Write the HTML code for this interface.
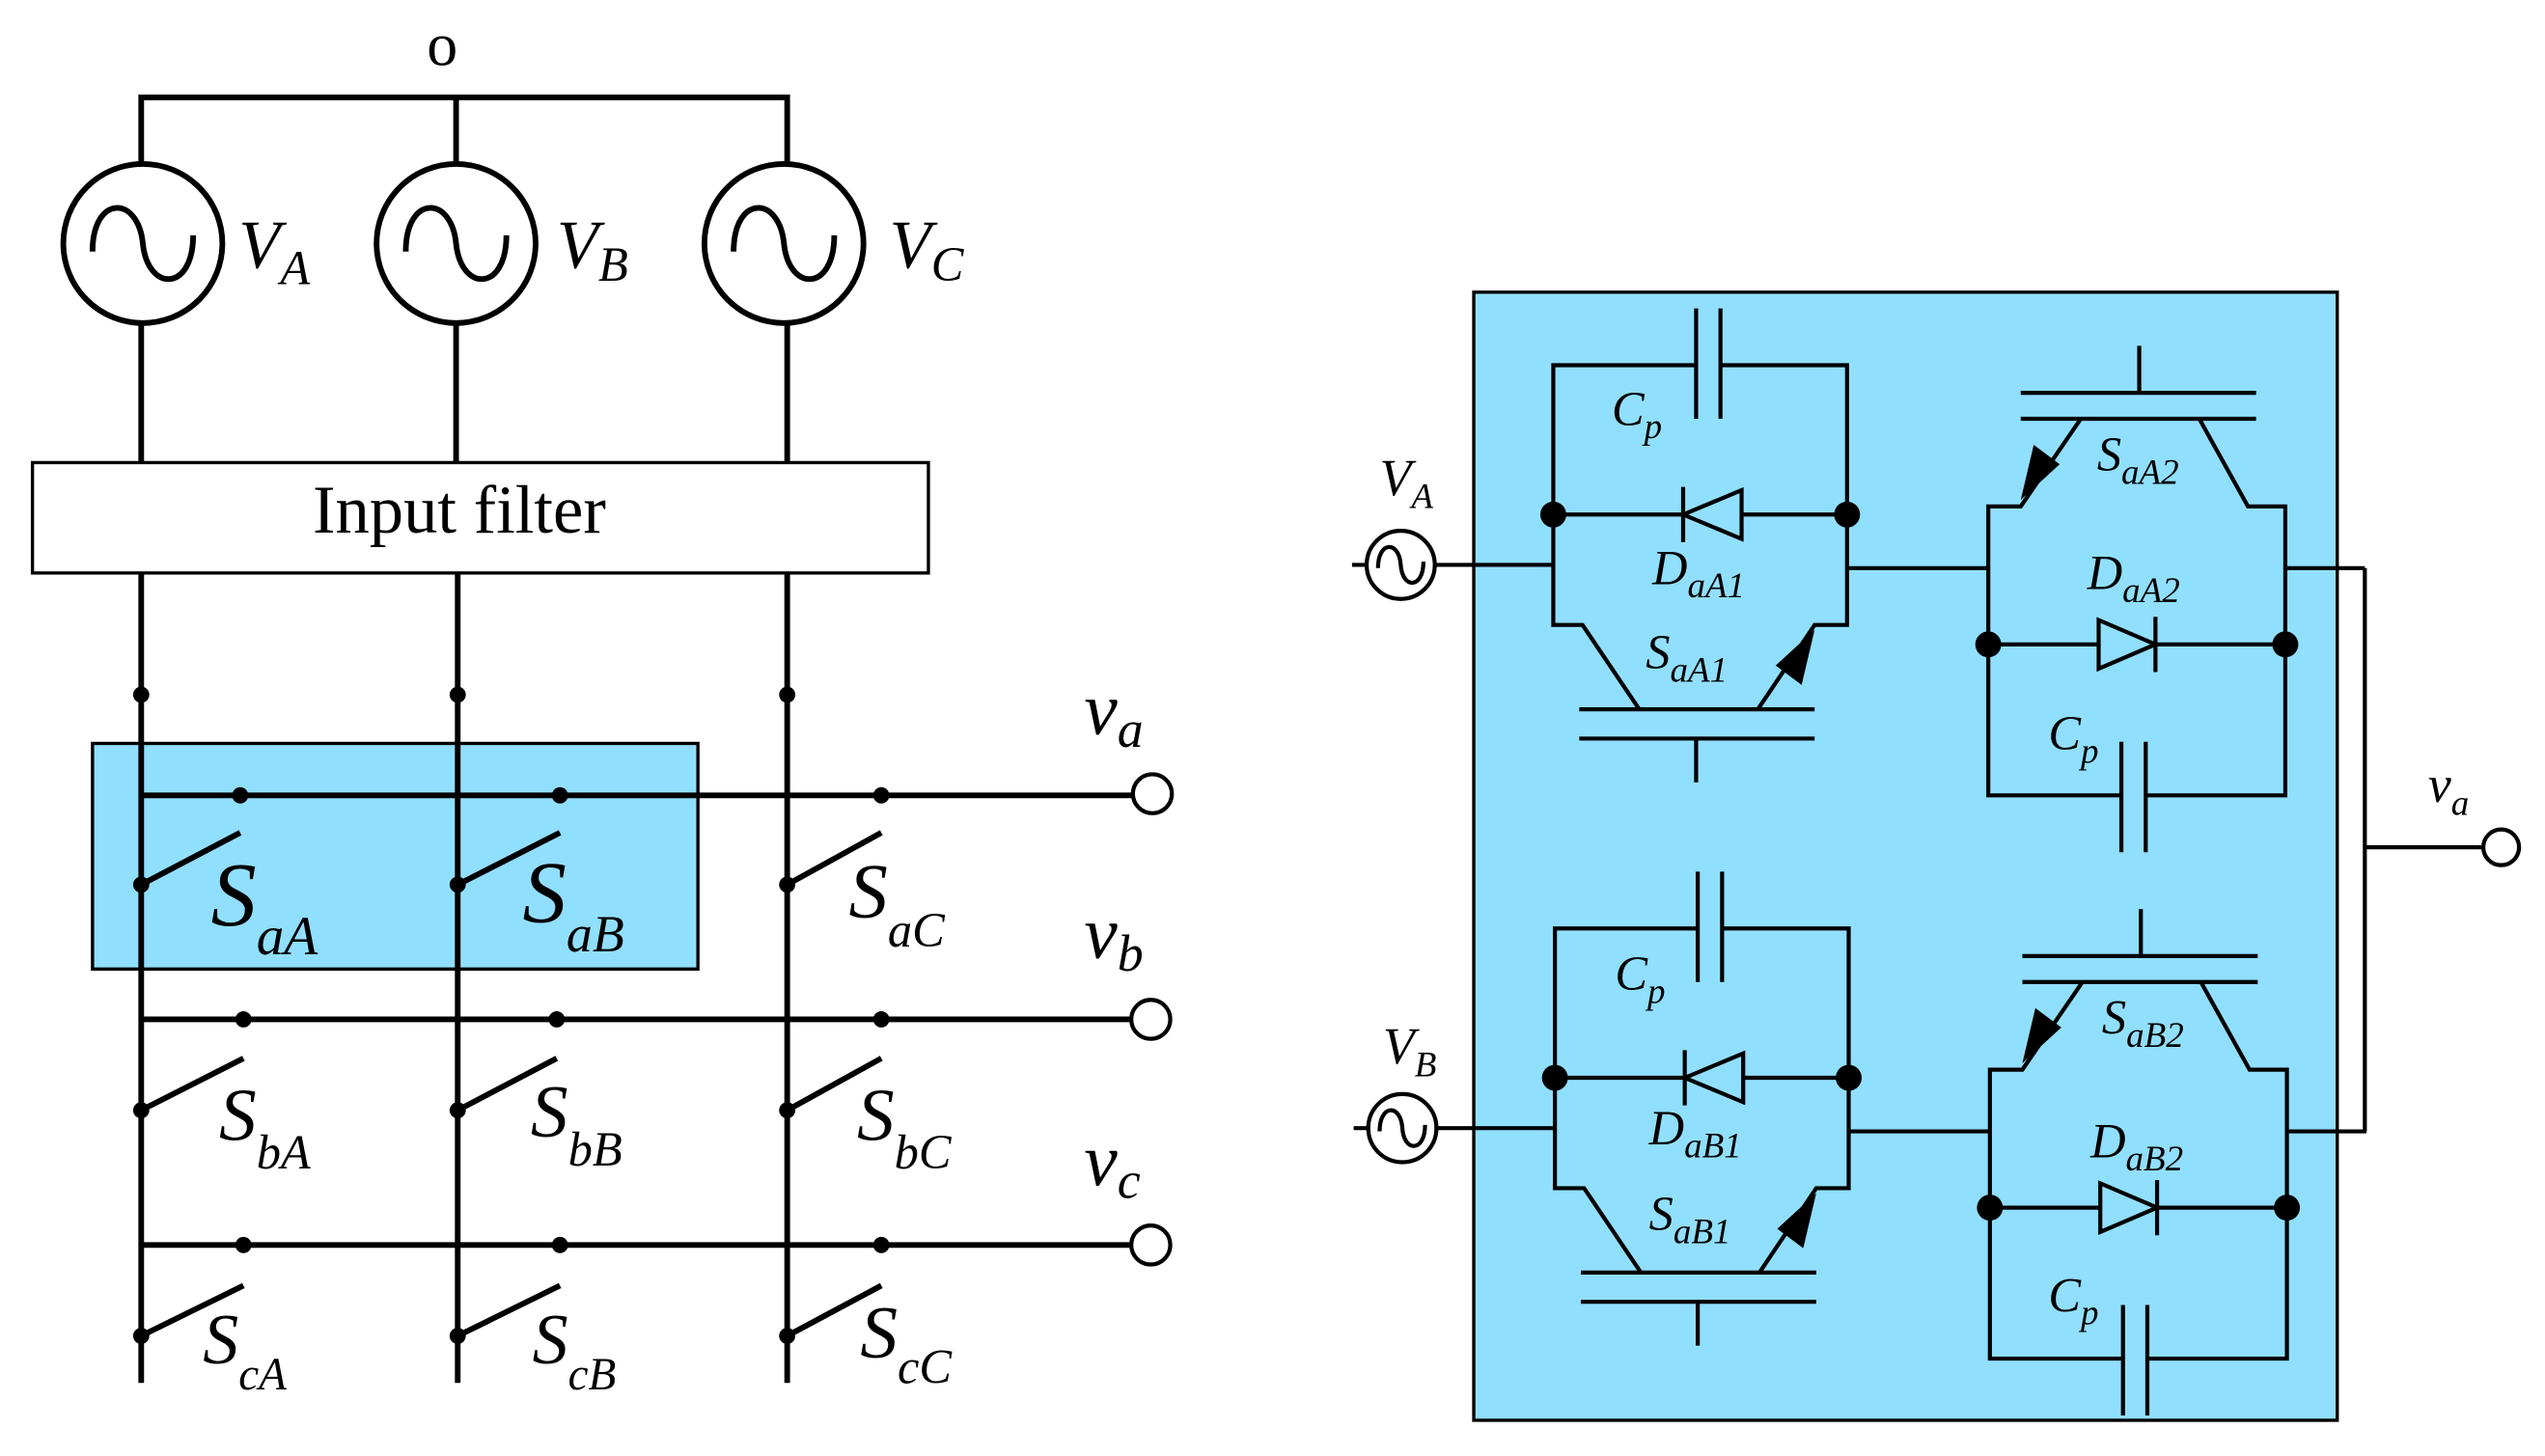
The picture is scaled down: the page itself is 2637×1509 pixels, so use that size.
<!DOCTYPE html>
<html><head><meta charset="utf-8"><style>
html,body{margin:0;padding:0;background:#fff}
svg{display:block}
text{font-family:"Liberation Serif",serif;fill:#000}
.i{font-style:italic}
</style></head><body>
<svg width="2637" height="1509" viewBox="0 0 1568 897" preserveAspectRatio="none" xmlns="http://www.w3.org/2000/svg">
<!-- LEFT -->
<g stroke="#000" stroke-width="3.5" fill="none">
<rect x="57" y="458" width="373" height="139" fill="#91dffe" stroke-width="2"/>
<polyline points="87,100 87,60 485,60 485,100"/>
<line x1="281" y1="60" x2="281" y2="100"/>
<circle cx="88" cy="150" r="49"/>
<circle cx="281" cy="150" r="49"/>
<circle cx="483" cy="150" r="49"/>
<path d="M57,155 C57,120 85,120 88,150 C91,180 119,180 119,145"/>
<path d="M250,155 C250,120 278,120 281,150 C284,180 312,180 312,145"/>
<path d="M452,155 C452,120 480,120 483,150 C486,180 514,180 514,145"/>
<line x1="87" y1="200" x2="87" y2="285"/>
<line x1="281" y1="200" x2="281" y2="285"/>
<line x1="485" y1="200" x2="485" y2="285"/>
<rect x="20" y="285" width="552" height="68" stroke-width="2"/>
<line x1="87" y1="353" x2="87" y2="852"/>
<line x1="282" y1="353" x2="282" y2="852"/>
<line x1="485" y1="353" x2="485" y2="852"/>
<line x1="87" y1="490" x2="698" y2="490"/>
<line x1="87" y1="628" x2="697" y2="628"/>
<line x1="87" y1="767" x2="697" y2="767"/>
<circle cx="710" cy="489" r="12" stroke-width="2.5" fill="#fff"/>
<circle cx="709" cy="628" r="12" stroke-width="2.5" fill="#fff"/>
<circle cx="709" cy="767" r="12" stroke-width="2.5" fill="#fff"/>
<line x1="87" y1="545" x2="148" y2="513"/>
<line x1="282" y1="545" x2="345" y2="513"/>
<line x1="485" y1="545" x2="543" y2="513"/>
<line x1="87" y1="684" x2="150" y2="652"/>
<line x1="282" y1="684" x2="343" y2="652"/>
<line x1="485" y1="684" x2="543" y2="652"/>
<line x1="87" y1="823" x2="150" y2="792"/>
<line x1="282" y1="823" x2="345" y2="792"/>
<line x1="485" y1="823" x2="543" y2="792"/>
</g>
<g fill="#000">
<circle cx="87" cy="428" r="5"/><circle cx="282" cy="428" r="5"/><circle cx="485" cy="428" r="5"/>
<circle cx="148" cy="490" r="5"/><circle cx="345" cy="490" r="5"/><circle cx="543" cy="490" r="5"/>
<circle cx="150" cy="628" r="5"/><circle cx="343" cy="628" r="5"/><circle cx="543" cy="628" r="5"/>
<circle cx="150" cy="767" r="5"/><circle cx="345" cy="767" r="5"/><circle cx="543" cy="767" r="5"/>
<circle cx="87" cy="545" r="5"/><circle cx="282" cy="545" r="5"/><circle cx="485" cy="545" r="5"/>
<circle cx="87" cy="684" r="5"/><circle cx="282" cy="684" r="5"/><circle cx="485" cy="684" r="5"/>
<circle cx="87" cy="823" r="5"/><circle cx="282" cy="823" r="5"/><circle cx="485" cy="823" r="5"/>
</g>
<text x="263" y="40" font-size="38">o</text>
<text x="147" y="165" font-size="42" class="i">V<tspan font-size="30" dy="10">A</tspan></text>
<text x="343" y="165" font-size="42" class="i">V<tspan font-size="30" dy="8">B</tspan></text>
<text x="548" y="165" font-size="42" class="i">V<tspan font-size="30" dy="8">C</tspan></text>
<text x="283" y="328" font-size="42" text-anchor="middle">Input filter</text>
<text x="130" y="570" font-size="56" class="i">S<tspan font-size="34" dy="18">aA</tspan></text>
<text x="322" y="568" font-size="54" class="i">S<tspan font-size="32" dy="18">aB</tspan></text>
<text x="523" y="565" font-size="48" class="i">S<tspan font-size="30" dy="18">aC</tspan></text>
<text x="135" y="702" font-size="46" class="i">S<tspan font-size="30" dy="18">bA</tspan></text>
<text x="327" y="700" font-size="46" class="i">S<tspan font-size="30" dy="18">bB</tspan></text>
<text x="528" y="702" font-size="46" class="i">S<tspan font-size="30" dy="18">bC</tspan></text>
<text x="125" y="840" font-size="44" class="i">S<tspan font-size="28" dy="16">cA</tspan></text>
<text x="328" y="840" font-size="44" class="i">S<tspan font-size="28" dy="16">cB</tspan></text>
<text x="530" y="836" font-size="46" class="i">S<tspan font-size="30" dy="16">cC</tspan></text>
<text x="668" y="452" font-size="46" class="i">v<tspan font-size="32" dy="8">a</tspan></text>
<text x="668" y="590" font-size="46" class="i">v<tspan font-size="32" dy="8">b</tspan></text>
<text x="668" y="730" font-size="46" class="i">v<tspan font-size="32" dy="8">c</tspan></text>

<!-- RIGHT -->
<rect x="908" y="180" width="532" height="695" fill="#91dffe" stroke="#000" stroke-width="2"/>
<defs>
<g id="half">
<g stroke="#000" stroke-width="2.5" fill="none">
<polyline points="1045,225 957,225 957,385 975,385 1010,437"/>
<polyline points="1060,225 1138,225 1138,385 1118,385 1083,437"/>
<line x1="1045" y1="190" x2="1045" y2="258"/><line x1="1060" y1="190" x2="1060" y2="258"/>
<line x1="957" y1="317" x2="1138" y2="317"/>
<polygon points="1037,317 1073,302 1073,332" fill="#91dffe"/>
<line x1="1037" y1="300" x2="1037" y2="334"/>
<line x1="973" y1="437" x2="1118" y2="437"/><line x1="973" y1="455" x2="1118" y2="455"/>
<line x1="1045" y1="455" x2="1045" y2="482"/>
<line x1="833" y1="348" x2="957" y2="348"/>
<line x1="1138" y1="350" x2="1225" y2="350"/>
<line x1="1245" y1="242" x2="1390" y2="242"/><line x1="1245" y1="258" x2="1390" y2="258"/>
<line x1="1318" y1="213" x2="1318" y2="242"/>
<polyline points="1282,258 1245,312 1225,312 1225,490 1307,490"/>
<polyline points="1355,258 1385,312 1408,312 1408,490 1322,490"/>
<line x1="1307" y1="457" x2="1307" y2="525"/><line x1="1322" y1="457" x2="1322" y2="525"/>
<line x1="1225" y1="397" x2="1408" y2="397"/>
<polygon points="1328,397 1293,382 1293,412" fill="#91dffe"/>
<line x1="1328" y1="380" x2="1328" y2="414"/>
<line x1="1408" y1="350" x2="1457" y2="350"/>
</g>
<g fill="#000">
<circle cx="957" cy="317" r="8"/><circle cx="1138" cy="317" r="8"/>
<circle cx="1225" cy="397" r="8"/><circle cx="1408" cy="397" r="8"/>
<polygon points="1118,388 1110,422 1094,410"/>
<polygon points="1245,308 1253,274 1269,286"/>
</g>
<circle cx="863" cy="348" r="21" fill="#fff" stroke="#000" stroke-width="2.5"/>
<path d="M849,350 C849,333 862,333 863,348 C864,363 877,363 877,346" stroke="#000" stroke-width="2.5" fill="none"/>
</g>
</defs>
<use href="#half"/>
<use href="#half" transform="translate(1,347)"/>
<g stroke="#000" stroke-width="2.5" fill="none">
<line x1="1457" y1="350" x2="1457" y2="697"/>
<line x1="1457" y1="522" x2="1530" y2="522"/>
<circle cx="1541" cy="522" r="11" fill="#fff"/>
</g>
<g class="i">
<text x="993" y="262" font-size="30" class="i">C<tspan font-size="22" dy="8">p</tspan></text>
<text x="1018" y="360" font-size="30" class="i">D<tspan font-size="22" dy="8">aA1</tspan></text>
<text x="1014" y="412" font-size="30" class="i">S<tspan font-size="22" dy="8">aA1</tspan></text>
<text x="1292" y="290" font-size="30" class="i">S<tspan font-size="22" dy="8">aA2</tspan></text>
<text x="1286" y="363" font-size="30" class="i">D<tspan font-size="22" dy="8">aA2</tspan></text>
<text x="1262" y="462" font-size="30" class="i">C<tspan font-size="22" dy="8">p</tspan></text>
<text x="850" y="305" font-size="32" class="i">V<tspan font-size="22" dy="8">A</tspan></text>
<text x="995" y="610" font-size="30" class="i">C<tspan font-size="22" dy="8">p</tspan></text>
<text x="1016" y="705" font-size="30" class="i">D<tspan font-size="22" dy="8">aB1</tspan></text>
<text x="1016" y="758" font-size="30" class="i">S<tspan font-size="22" dy="8">aB1</tspan></text>
<text x="1295" y="637" font-size="30" class="i">S<tspan font-size="22" dy="8">aB2</tspan></text>
<text x="1288" y="713" font-size="30" class="i">D<tspan font-size="22" dy="8">aB2</tspan></text>
<text x="1262" y="808" font-size="30" class="i">C<tspan font-size="22" dy="8">p</tspan></text>
<text x="852" y="655" font-size="32" class="i">V<tspan font-size="22" dy="8">B</tspan></text>
<text x="1496" y="494" font-size="32" class="i">v<tspan font-size="22" dy="8">a</tspan></text>
</g>
</svg>
</body></html>
